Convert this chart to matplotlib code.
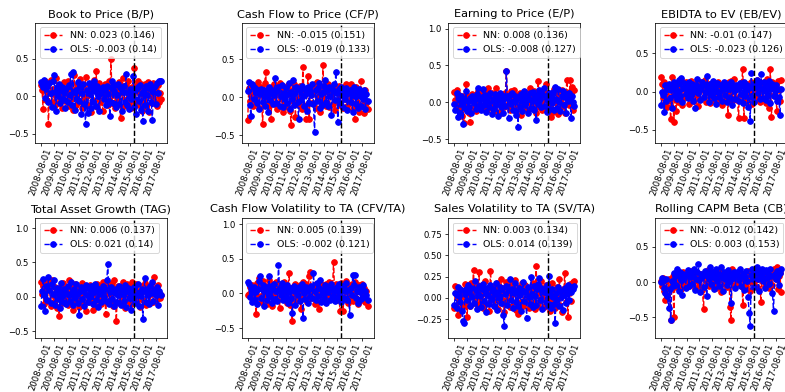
import numpy as np
import pandas as pd
import matplotlib
matplotlib.use('Agg')
import matplotlib.pyplot as plt
from matplotlib.ticker import MultipleLocator

# monthly dates, 2008-08 .. 2018-01
dates = [d.strftime('%Y-%m-%d') for d in pd.date_range('2008-08-01', '2018-01-01', freq='MS')]
split_date = '2015-12-01'

titles = ['Book to Price (B/P)', 'Cash Flow to Price (CF/P)', 'Earning to Price (E/P)',
          'EBIDTA to EV (EB/EV)', 'Total Asset Growth (TAG)', 'Cash Flow Volatility to TA (CFV/TA)',
          'Sales Volatility to TA (SV/TA)', 'Rolling CAPM Beta (CB)']

nn_mean = [0.023, -0.015, 0.008, -0.01, 0.006, 0.005, 0.003, -0.012]
nn_std = [0.146, 0.151, 0.136, 0.147, 0.137, 0.139, 0.134, 0.142]
ols_mean = [-0.003, -0.019, -0.008, -0.023, 0.021, -0.002, 0.014, 0.003]
ols_std = [0.14, 0.133, 0.127, 0.126, 0.14, 0.121, 0.139, 0.153]

ylims = [(-0.62, 0.98), (-0.60, 0.98), (-0.55, 1.08), (-0.67, 0.90),
         (-0.60, 1.15), (-0.64, 1.09), (-0.47, 0.94), (-0.79, 0.91)]
ystep = [0.5, 0.5, 0.5, 0.5, 0.5, 0.5, 0.25, 0.5]

# B/P
nn_bp = [0.15, 0.08, -0.17, 0.12, 0.20, -0.05, 0.18, -0.37, 0.05, 0.22, -0.08, 0.10,
         0.03, -0.12, 0.25, 0.06, -0.09, 0.14, -0.02, 0.11, -0.15, 0.08, 0.19, -0.06,
         0.04, 0.21, -0.13, 0.12, -0.04, 0.07, -0.18, 0.28, 0.02, -0.11, 0.15, 0.09,
         -0.07, 0.23, 0.05, -0.16, 0.11, -0.03, 0.26, 0.01, -0.12, 0.17, 0.06, -0.21,
         0.14, -0.05, 0.22, 0.09, 0.34, -0.14, 0.03, 0.18, -0.08, 0.12, -0.19, 0.07,
         0.16, -0.02, 0.10, -0.11, 0.20, 0.04, 0.50, -0.09, 0.13, 0.02, -0.16, 0.08,
         0.11, -0.06, 0.19, -0.29, 0.05, 0.25, -0.13, 0.09, 0.15, -0.04, 0.21, -0.10,
         0.06, -0.15, 0.12, 0.03, 0.38, -0.08, 0.14, 0.20, -0.12, 0.05, 0.17, -0.19,
         0.10, -0.05, 0.16, -0.14, 0.08, 0.19, -0.21, 0.02, 0.13, -0.09, 0.18, -0.03,
         0.09, -0.13, 0.15, -0.07, 0.04, -0.04]
ols_bp = [0.19, 0.16, 0.12, 0.22, -0.02, 0.10, 0.15, -0.08, 0.18, 0.05, -0.14, 0.21,
          0.28, 0.06, -0.20, 0.13, 0.01, 0.17, -0.09, 0.08, 0.12, -0.03, 0.05, -0.16,
          0.11, -0.07, 0.15, 0.02, 0.30, -0.12, 0.32, 0.06, -0.18, 0.09, -0.04, 0.19,
          -0.06, 0.13, -0.23, 0.04, 0.16, -0.10, -0.37, 0.08, -0.22, 0.18, 0.03, -0.15,
          0.12, -0.08, 0.21, 0.07, -0.13, 0.14, 0.00, -0.19, 0.10, 0.05, 0.13, -0.04,
          0.09, -0.11, 0.14, 0.03, -0.06, -0.26, 0.12, 0.20, -0.09, 0.07, 0.15, -0.14,
          0.02, 0.17, -0.10, 0.11, -0.20, 0.06, 0.14, -0.07, 0.30, -0.12, 0.04, -0.17,
          0.10, -0.04, 0.03, 0.27, -0.14, 0.08, -0.23, 0.12, -0.06, 0.15, -0.18, 0.05,
          -0.33, 0.09, -0.12, 0.14, 0.02, -0.20, 0.11, 0.17, -0.08, -0.32, 0.06, 0.13,
          -0.10, 0.18, 0.04, 0.21, 0.20, 0.21]

# CF/P
nn_cfp = [-0.30, 0.12, -0.05, 0.18, 0.06, -0.12, 0.09, 0.15, -0.08, 0.03, 0.20, -0.14,
          0.07, 0.14, -0.35, 0.02, 0.19, 0.33, -0.06, 0.10, -0.11, 0.05, -0.29, 0.13,
          0.01, 0.17, -0.09, 0.06, -0.15, 0.11, 0.19, -0.03, 0.08, -0.20, 0.14, -0.07,
          0.10, -0.13, 0.16, 0.04, -0.18, -0.36, 0.09, -0.05, 0.18, -0.26, 0.12, -0.02,
          -0.10, 0.15, 0.03, -0.16, 0.40, 0.08, -0.12, -0.29, 0.11, 0.28, -0.29, 0.06,
          0.13, -0.08, 0.05, 0.17, -0.14, 0.20, -0.04, 0.09, -0.19, 0.12, 0.02, 0.42,
          -0.06, 0.14, -0.11, 0.08, 0.18, -0.13, 0.04, 0.11, -0.09, 0.16, -0.17, 0.07,
          0.12, -0.05, 0.15, -0.10, 0.09, 0.03, -0.14, 0.13, -0.02, 0.17, -0.12, 0.06,
          -0.08, 0.18, 0.01, -0.15, 0.10, -0.29, 0.14, -0.06, 0.08, -0.20, 0.05, 0.21,
          -0.12, 0.03, -0.21, 0.09, -0.07, -0.15]
ols_cfp = [0.08, 0.20, -0.10, -0.25, 0.18, 0.15, -0.03, 0.12, 0.05, -0.08, 0.10, -0.15,
           0.04, 0.11, -0.06, 0.09, -0.12, 0.02, 0.07, -0.19, 0.13, -0.04, 0.06, 0.10,
           -0.09, 0.03, 0.25, -0.07, 0.08, 0.14, -0.11, 0.01, 0.16, -0.13, 0.05, -0.02,
           0.12, -0.08, 0.04, 0.19, -0.15, 0.07, -0.03, 0.22, -0.10, 0.06, 0.13, -0.06,
           -0.29, 0.09, -0.04, 0.15, 0.02, -0.12, 0.11, 0.05, -0.18, 0.14, -0.07, 0.08,
           0.03, 0.17, -0.09, -0.46, 0.10, -0.05, 0.12, 0.19, -0.14, 0.04, -0.10, 0.07,
           0.15, 0.23, -0.06, 0.09, -0.11, 0.13, 0.02, -0.23, 0.08, 0.18, -0.04, 0.33,
           0.06, -0.32, 0.11, -0.08, 0.14, 0.03, -0.13, 0.09, -0.02, 0.12, -0.17, 0.05,
           0.10, -0.06, 0.04, -0.20, 0.13, 0.01, -0.09, 0.08, -0.14, 0.11, 0.02, -0.11,
           0.06, -0.03, 0.09, -0.16, 0.04, -0.05]

# E/P
nn_ep = [0.14, 0.03, 0.17, -0.06, 0.10, -0.12, 0.05, -0.18, 0.08, -0.28, 0.02, 0.25,
         -0.04, 0.09, -0.15, -0.27, 0.06, 0.11, -0.08, 0.03, -0.12, 0.07, 0.15, -0.02,
         0.08, -0.05, 0.12, 0.17, -0.09, 0.04, 0.14, -0.11, 0.19, 0.06, -0.03, 0.13,
         -0.07, 0.10, 0.02, 0.20, -0.13, 0.08, -0.01, 0.11, -0.15, 0.05, 0.09, -0.06,
         0.12, 0.43, -0.04, 0.07, -0.10, 0.15, 0.03, -0.08, 0.17, 0.01, -0.12, 0.06,
         0.10, -0.05, 0.13, -0.17, 0.04, 0.08, -0.09, 0.14, 0.02, -0.11, 0.07, 0.19,
         -0.03, 0.11, -0.08, 0.16, 0.05, -0.14, 0.09, 0.29, -0.06, 0.12, 0.01, -0.10,
         0.15, 0.04, 0.25, -0.07, 0.13, -0.02, 0.10, -0.20, 0.06, -0.13, 0.18, 0.03,
         -0.09, 0.14, -0.16, 0.08, 0.02, 0.17, -0.05, 0.11, -0.14, 0.07, 0.30, 0.12,
         -0.04, 0.30, 0.16, 0.21, -0.10, 0.17]
ols_ep = [-0.02, -0.10, 0.12, -0.20, 0.05, -0.14, 0.08, -0.03, -0.29, 0.04, -0.08, 0.15,
          -0.12, 0.02, -0.06, 0.06, -0.15, 0.09, -0.01, 0.04, -0.09, 0.11, 0.20, -0.05,
          0.03, -0.11, 0.07, 0.18, -0.04, 0.10, -0.13, 0.02, 0.08, -0.07, 0.13, -0.16,
          0.05, -0.09, 0.11, -0.02, 0.07, -0.19, 0.04, 0.12, -0.06, 0.01, -0.14, 0.09,
          -0.05, 0.42, 0.06, -0.21, 0.10, -0.03, 0.13, -0.10, 0.02, 0.08, -0.17, 0.04,
          -0.33, 0.07, -0.06, 0.11, -0.12, 0.03, 0.16, -0.04, 0.09, -0.15, 0.05, 0.12,
          -0.08, 0.02, 0.14, -0.11, 0.06, -0.24, 0.10, -0.02, 0.17, 0.04, -0.07, 0.11,
          0.19, -0.05, 0.08, -0.13, 0.03, 0.12, -0.09, 0.06, -0.01, 0.14, -0.10, 0.21,
          0.05, -0.08, 0.18, 0.01, -0.12, 0.09, 0.15, -0.04, 0.07, -0.15, 0.11, 0.02,
          0.13, 0.04, -0.22, 0.08, 0.00, -0.05]

# EB/EV
nn_ebev = [0.19, 0.10, -0.08, 0.12, -0.15, 0.03, -0.20, 0.07, -0.12, -0.36, 0.19, -0.05,
           -0.40, 0.08, -0.26, 0.02, -0.14, 0.11, -0.06, 0.15, -0.18, 0.04, -0.09, 0.13,
           -0.03, 0.09, -0.16, 0.06, 0.14, -0.07, 0.01, -0.12, 0.10, -0.04, 0.08, -0.19,
           0.05, -0.10, 0.12, 0.03, -0.08, 0.15, -0.13, 0.07, -0.02, 0.10, -0.15, 0.04,
           -0.06, 0.11, -0.11, 0.08, 0.02, -0.14, 0.13, -0.04, 0.09, -0.17, 0.06, 0.01,
           0.10, -0.09, 0.05, -0.30, 0.12, -0.03, 0.14, -0.12, 0.07, 0.16, -0.08, 0.03,
           -0.11, -0.35, 0.09, -0.05, 0.13, 0.30, -0.35, 0.06, -0.14, 0.10, -0.02, 0.08,
           -0.07, 0.12, -0.16, 0.04, 0.09, -0.10, 0.15, -0.04, 0.07, -0.13, 0.11, 0.02,
           -0.09, 0.13, 0.05, -0.15, 0.17, 0.08, -0.21, 0.30, -0.33, 0.12, 0.04, -0.06,
           0.10, -0.25, 0.14, 0.02, -0.12, 0.15]
ols_ebev = [-0.18, 0.00, -0.05, -0.27, 0.08, -0.12, 0.04, 0.10, -0.08, 0.02, -0.22, 0.06,
            0.12, -0.04, 0.09, -0.10, 0.01, 0.15, -0.06, 0.18, -0.14, 0.05, 0.11, -0.03,
            0.07, -0.08, 0.13, 0.02, -0.05, 0.10, -0.12, 0.04, -0.22, 0.09, 0.16, -0.02,
            0.06, -0.11, 0.03, 0.12, -0.07, 0.08, -0.01, 0.21, 0.05, -0.13, 0.10, -0.04,
            0.02, 0.14, -0.09, 0.06, -0.16, 0.11, 0.00, -0.07, 0.09, -0.12, 0.04, 0.13,
            -0.05, 0.08, -0.14, 0.03, 0.10, -0.08, 0.12, -0.18, 0.06, 0.01, -0.10, 0.09,
            0.04, -0.12, 0.11, -0.03, 0.07, -0.15, 0.13, -0.06, 0.02, 0.09, -0.20, 0.05,
            -0.38, 0.24, -0.07, 0.10, -0.13, 0.06, 0.15, -0.02, 0.08, -0.10, 0.23, 0.03,
            -0.08, 0.12, 0.01, -0.11, 0.07, -0.04, 0.14, -0.15, 0.05, 0.10, -0.06, 0.02,
            0.08, -0.12, 0.04, -0.07, -0.31, 0.03]

# TAG
nn_tag = [0.21, 0.04, 0.15, -0.10, 0.08, 0.22, -0.06, 0.12, 0.18, -0.13, 0.24, 0.02,
          -0.08, 0.14, 0.06, -0.17, 0.10, -0.28, 0.03, 0.16, -0.09, 0.20, -0.03, 0.11,
          0.07, -0.12, 0.25, -0.04, 0.13, 0.01, -0.19, 0.09, 0.18, -0.07, 0.05, 0.12,
          -0.15, 0.10, 0.02, 0.20, -0.11, 0.06, -0.21, 0.14, 0.03, -0.08, 0.17, -0.02,
          0.09, -0.20, 0.12, 0.04, -0.13, 0.19, 0.07, -0.05, 0.15, -0.10, 0.21, 0.01,
          0.11, -0.25, 0.06, 0.17, -0.07, 0.13, -0.02, 0.20, -0.14, 0.25, 0.08, -0.35,
          0.05, 0.16, -0.09, 0.12, -0.04, 0.21, 0.02, -0.16, 0.10, 0.18, -0.06, 0.07,
          0.14, -0.11, 0.22, 0.03, -0.08, 0.12, 0.19, -0.03, 0.09, -0.15, 0.06, 0.16,
          -0.05, 0.11, 0.20, -0.12, 0.07, 0.02, 0.15, -0.09, 0.13, 0.04, -0.07, 0.29,
          0.10, -0.04, 0.17, 0.05, -0.02, 0.03]
ols_tag = [-0.14, 0.08, 0.26, 0.02, -0.21, 0.15, -0.05, 0.29, 0.10, -0.09, 0.18, 0.04,
           0.24, -0.12, 0.06, 0.13, -0.03, 0.09, -0.16, 0.20, 0.01, -0.07, 0.11, 0.05,
           -0.10, 0.16, 0.03, -0.06, 0.22, 0.07, -0.12, 0.12, -0.02, 0.19, 0.04, -0.09,
           -0.27, 0.08, 0.14, -0.04, 0.10, -0.13, 0.17, 0.02, -0.08, 0.11, -0.01, 0.15,
           0.06, -0.11, 0.09, 0.18, -0.05, 0.13, -0.15, 0.04, 0.10, -0.07, 0.16, 0.00,
           0.12, -0.06, 0.24, 0.47, -0.10, 0.07, 0.14, -0.03, 0.09, -0.13, 0.05, 0.11,
           -0.08, 0.02, 0.15, -0.12, 0.10, 0.04, -0.06, 0.17, -0.15, 0.08, 0.13, -0.02,
           0.06, -0.20, 0.11, -0.04, 0.14, -0.09, 0.03, 0.18, -0.13, 0.07, 0.01, 0.12,
           -0.33, 0.09, 0.27, -0.07, 0.12, 0.03, -0.10, 0.16, 0.05, 0.22, -0.06, 0.10,
           0.02, 0.14, -0.12, 0.08, 0.04, 0.03]

# CFV/TA
nn_cfv = [-0.02, -0.01, 0.10, -0.05, 0.12, 0.03, -0.09, 0.06, -0.29, 0.15, -0.04, 0.22,
          0.08, -0.12, 0.18, 0.02, -0.07, 0.11, -0.15, 0.05, 0.20, -0.03, 0.09, -0.18,
          0.13, -0.06, 0.01, 0.16, -0.10, 0.07, -0.21, 0.12, 0.04, -0.08, 0.17, -0.02,
          0.09, -0.13, 0.06, 0.30, -0.17, 0.03, -0.39, 0.10, -0.05, 0.14, -0.11, 0.02,
          -0.08, 0.12, -0.23, 0.05, 0.17, -0.04, 0.09, 0.14, -0.12, 0.06, 0.25, 0.31,
          -0.06, 0.10, 0.03, -0.15, 0.13, -0.02, 0.08, -0.22, 0.15, 0.01, -0.09, 0.12,
          0.04, -0.11, 0.14, -0.03, 0.09, 0.16, -0.07, 0.02, 0.11, 0.46, -0.05, 0.13,
          -0.10, 0.07, -0.02, -0.25, 0.15, 0.04, -0.25, 0.11, -0.08, 0.18, 0.02, -0.13,
          0.09, -0.04, 0.14, -0.11, 0.06, 0.17, -0.07, 0.03, -0.15, 0.12, 0.05, -0.09,
          0.14, -0.03, 0.08, -0.12, 0.04, -0.18]
ols_cfv = [0.16, 0.13, -0.05, 0.08, -0.12, 0.02, 0.10, -0.09, 0.04, -0.15, 0.07, 0.18,
           0.25, -0.06, 0.12, -0.18, 0.05, 0.09, -0.10, 0.01, 0.25, -0.04, 0.11, -0.14,
           0.06, 0.13, -0.08, 0.03, -0.11, 0.41, 0.07, -0.02, 0.15, -0.09, 0.04, 0.10,
           -0.05, 0.12, -0.13, 0.02, 0.08, -0.07, -0.28, 0.05, 0.11, -0.16, 0.03, -0.02,
           0.09, -0.11, 0.06, 0.14, -0.36, 0.01, -0.08, 0.10, 0.04, -0.13, 0.07, -0.03,
           0.11, -0.06, 0.29, 0.03, -0.10, 0.15, -0.04, 0.08, 0.19, -0.12, 0.05, 0.01,
           -0.07, 0.12, -0.14, 0.06, 0.02, 0.10, -0.09, 0.13, -0.03, 0.07, -0.11, 0.04,
           0.09, -0.05, 0.14, 0.01, -0.12, 0.08, 0.11, -0.07, 0.03, 0.15, -0.10, 0.05,
           -0.31, 0.08, -0.02, 0.26, 0.12, 0.26, -0.06, 0.04, -0.14, 0.10, 0.02, -0.08,
           0.07, 0.12, -0.05, 0.03, -0.02, -0.09]

# SV/TA
nn_sv = [-0.12, 0.14, 0.05, -0.20, -0.03, 0.10, -0.14, 0.08, 0.02, -0.09, 0.16, -0.05,
         -0.22, 0.12, 0.04, -0.10, 0.18, 0.07, 0.33, -0.06, 0.13, 0.01, -0.08, 0.30,
         0.09, -0.04, 0.15, -0.12, 0.06, 0.20, -0.07, 0.11, 0.03, -0.15, 0.32, 0.08,
         -0.02, 0.14, -0.09, 0.05, 0.17, -0.13, 0.10, 0.01, 0.22, -0.06, 0.12, -0.16,
         0.07, 0.19, -0.03, 0.11, -0.11, 0.04, 0.16, -0.08, 0.09, 0.21, -0.14, 0.02,
         -0.19, 0.13, 0.06, -0.05, 0.18, -0.10, 0.08, 0.15, -0.02, 0.11, -0.12, 0.05,
         0.10, -0.07, 0.17, 0.03, -0.13, 0.37, 0.06, -0.09, 0.14, -0.04, 0.20, 0.01,
         -0.11, 0.08, 0.15, -0.06, 0.12, 0.02, -0.15, 0.09, 0.18, -0.03, 0.07, -0.12,
         0.05, 0.13, -0.08, 0.22, 0.01, -0.17, 0.10, 0.04, 0.29, -0.05, 0.11, -0.23,
         0.08, 0.16, -0.04, 0.12, 0.19, 0.20]
ols_sv = [-0.08, 0.06, -0.12, 0.13, 0.02, -0.05, 0.09, -0.15, -0.27, -0.30, 0.04, 0.11,
          -0.03, 0.15, 0.07, -0.10, 0.12, 0.01, -0.06, 0.20, 0.09, -0.13, 0.05, 0.14,
          0.02, -0.11, 0.10, 0.16, -0.04, 0.08, -0.17, 0.12, 0.03, -0.07, 0.15, -0.01,
          0.11, -0.09, 0.05, 0.18, -0.14, 0.07, 0.00, 0.13, -0.06, 0.10, -0.20, -0.33,
          0.04, 0.14, -0.08, 0.09, 0.22, -0.02, 0.11, -0.12, 0.06, 0.17, -0.05, 0.08,
          -0.10, 0.12, 0.03, -0.15, 0.09, 0.19, -0.04, 0.07, -0.24, 0.13, 0.01, -0.07,
          0.25, 0.05, -0.11, 0.14, 0.02, -0.08, 0.10, 0.16, 0.23, -0.03, 0.12, -0.13,
          0.07, 0.11, -0.05, 0.15, -0.09, 0.26, 0.04, -0.12, 0.10, 0.01, -0.07, -0.29,
          0.06, -0.03, 0.13, -0.10, 0.08, 0.02, -0.14, 0.09, 0.12, -0.06, 0.04, 0.15,
          -0.02, 0.10, 0.07, 0.13, 0.11, 0.14]

# CB
nn_cb = [0.02, -0.05, 0.06, -0.12, -0.26, 0.01, -0.18, 0.04, -0.09, -0.54, -0.03, 0.08,
         -0.49, 0.05, -0.07, 0.10, -0.02, 0.12, 0.03, -0.10, 0.07, 0.14, -0.04, 0.09,
         0.01, 0.13, -0.06, 0.08, 0.16, -0.01, 0.11, 0.05, -0.08, 0.15, 0.02, 0.10,
         -0.05, 0.12, 0.06, -0.11, -0.38, 0.09, 0.14, 0.00, 0.17, -0.06, 0.11, 0.04,
         0.10, -0.03, 0.15, 0.07, -0.09, 0.12, 0.02, 0.16, -0.14, 0.08, 0.05, -0.02,
         0.13, 0.04, -0.07, 0.11, 0.01, -0.35, -0.54, 0.19, 0.06, -0.04, 0.12, 0.08,
         -0.01, 0.10, 0.15, -0.06, 0.09, -0.33, 0.03, 0.13, -0.05, 0.07, 0.16, 0.02,
         -0.12, 0.08, 0.05, 0.14, -0.03, 0.11, 0.17, -0.08, 0.06, 0.12, -0.28, 0.09,
         0.03, 0.13, -0.06, 0.10, 0.16, 0.01, -0.09, 0.14, 0.07, -0.04, 0.18, 0.11,
         0.05, 0.22, -0.10, 0.08, 0.13, -0.14]
ols_cb = [0.00, 0.06, 0.02, -0.08, -0.15, 0.04, -0.20, -0.36, -0.10, -0.53, 0.01, -0.06,
          0.13, 0.08, -0.04, 0.19, 0.10, -0.12, 0.15, 0.03, -0.18, 0.12, 0.06, -0.09,
          0.11, 0.17, -0.05, 0.07, 0.14, -0.02, 0.09, 0.18, -0.11, 0.05, 0.15, 0.26,
          0.03, -0.14, 0.12, 0.08, -0.07, 0.16, 0.10, -0.19, 0.13, 0.04, 0.22, -0.03,
          0.09, 0.15, -0.10, 0.06, 0.18, 0.02, 0.11, -0.06, 0.22, 0.07, -0.13, 0.14,
          0.05, 0.10, -0.04, 0.17, 0.08, 0.01, -0.29, 0.12, 0.06, 0.15, -0.08, 0.10,
          0.14, 0.03, 0.19, -0.05, 0.09, 0.12, -0.11, 0.07, 0.16, 0.02, -0.21, -0.44,
          -0.62, 0.10, 0.18, 0.05, -0.07, 0.13, 0.21, 0.04, -0.12, 0.15, 0.08, 0.19,
          0.02, 0.14, -0.09, 0.17, 0.06, 0.11, -0.03, 0.19, 0.08, -0.15, -0.41, 0.12,
          0.05, 0.16, 0.09, -0.04, 0.13, 0.18]

nn_series = [nn_bp, nn_cfp, nn_ep, nn_ebev, nn_tag, nn_cfv, nn_sv, nn_cb]
ols_series = [ols_bp, ols_cfp, ols_ep, ols_ebev, ols_tag, ols_cfv, ols_sv, ols_cb]

dpi = 68
fig, axes = plt.subplots(2, 4, figsize=(785 / dpi, 392 / dpi), dpi=dpi)
fig.subplots_adjust(left=0.0446, right=1.0025, top=0.942, bottom=0.138, wspace=0.568, hspace=0.625)

for k, ax in enumerate(axes.flat):
    ax.plot(dates, nn_series[k], 'r--o', label='NN: {} ({})'.format(nn_mean[k], nn_std[k]))
    ax.plot(dates, ols_series[k], 'b--o', label='OLS: {} ({})'.format(ols_mean[k], ols_std[k]))
    ax.axvline(dates.index(split_date), color='k', linestyle='--')
    ax.set_xticks(range(0, len(dates), 12))
    ax.set_xticklabels(dates[::12], rotation=70)
    ax.yaxis.set_major_locator(MultipleLocator(ystep[k]))
    ax.tick_params(labelsize=9)
    ax.tick_params(axis='x', pad=1)
    ax.set_ylim(ylims[k])
    ax.set_title(titles[k])
    ax.legend(loc='upper left')

fig.savefig('out.png', dpi=dpi)
